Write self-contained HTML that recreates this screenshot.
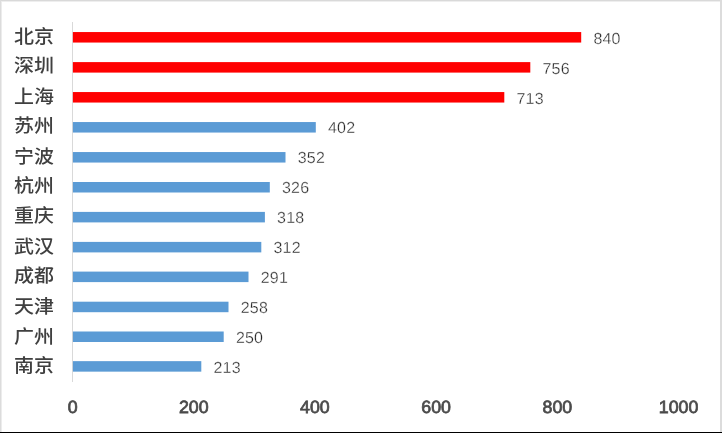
<!DOCTYPE html>
<html lang="zh"><head><meta charset="utf-8"><title>chart</title>
<style>
html,body{margin:0;padding:0;background:#fff;}
body{width:722px;height:433px;position:relative;overflow:hidden;font-family:"Liberation Sans","Noto Sans CJK SC",sans-serif;}
.f{position:absolute;}
svg{position:absolute;left:0;top:0;}
.cat{position:absolute;left:14.3px;width:40px;font-weight:500;font-size:18.5px;line-height:20px;height:20px;color:#404040;white-space:nowrap;font-family:"Liberation Sans","Noto Sans CJK SC",sans-serif;transform:scaleX(1.08);transform-origin:0 0;}
.val{position:absolute;text-rendering:geometricPrecision;letter-spacing:0.2px;font-size:16px;line-height:16px;height:16px;color:#262626;-webkit-text-stroke:0.3px #fff;white-space:nowrap;}
.tick{position:absolute;text-rendering:geometricPrecision;top:397px;width:60px;text-align:center;font-size:17.8px;line-height:20px;height:20px;color:#4a4a4a;letter-spacing:0px;-webkit-text-stroke:0.75px #4a4a4a;white-space:nowrap;}
</style></head><body>
<div class="f" style="left:0;top:0;width:722px;height:1px;background:#d9d9d9"></div>
<div class="f" style="left:0;top:1px;width:722px;height:1px;background:#eeeeee"></div>
<div class="f" style="left:0;top:0;width:1px;height:433px;background:#dcdcdc"></div>
<div class="f" style="left:1px;top:1px;width:1px;height:432px;background:#ececec"></div>
<div class="f" style="left:720px;top:0;width:2px;height:433px;background:#dcdcdc"></div>
<div class="f" style="left:0;top:432px;width:722px;height:1px;background:#000"></div>
<svg width="722" height="433" viewBox="0 0 722 433">
<rect x="72" y="22" width="1" height="360" fill="#d9d9d9"/>

<rect x="72.9" y="32.05" width="508.3" height="10.5" fill="#ff0000"/>
<rect x="72.9" y="62.10" width="457.4" height="10.5" fill="#ff0000"/>
<rect x="72.9" y="92.05" width="431.4" height="10.5" fill="#ff0000"/>
<rect x="72.9" y="122.05" width="242.9" height="10.5" fill="#5b9bd5"/>
<rect x="72.9" y="152.05" width="212.6" height="10.5" fill="#5b9bd5"/>
<rect x="72.9" y="182.00" width="196.9" height="10.5" fill="#5b9bd5"/>
<rect x="72.9" y="211.90" width="192.0" height="10.5" fill="#5b9bd5"/>
<rect x="72.9" y="241.90" width="188.4" height="10.5" fill="#5b9bd5"/>
<rect x="72.9" y="271.60" width="175.6" height="10.5" fill="#5b9bd5"/>
<rect x="72.9" y="301.70" width="155.6" height="10.5" fill="#5b9bd5"/>
<rect x="72.9" y="331.50" width="150.8" height="10.5" fill="#5b9bd5"/>
<rect x="72.9" y="361.15" width="128.4" height="10.5" fill="#5b9bd5"/>
</svg>
<div class="cat" style="top:27px">北京</div>
<div class="val" style="left:593.4px;top:32px">840</div>
<div class="cat" style="top:56px">深圳</div>
<div class="val" style="left:542.5px;top:62px">756</div>
<div class="cat" style="top:87px">上海</div>
<div class="val" style="left:516.5px;top:92px">713</div>
<div class="cat" style="top:116px">苏州</div>
<div class="val" style="left:328.0px;top:121px">402</div>
<div class="cat" style="top:147px">宁波</div>
<div class="val" style="left:297.7px;top:151px">352</div>
<div class="cat" style="top:176px">杭州</div>
<div class="val" style="left:282.0px;top:181px">326</div>
<div class="cat" style="top:206px">重庆</div>
<div class="val" style="left:277.1px;top:211px">318</div>
<div class="cat" style="top:237px">武汉</div>
<div class="val" style="left:273.5px;top:241px">312</div>
<div class="cat" style="top:266px">成都</div>
<div class="val" style="left:260.7px;top:271px">291</div>
<div class="cat" style="top:297px">天津</div>
<div class="val" style="left:240.7px;top:301px">258</div>
<div class="cat" style="top:327px">广州</div>
<div class="val" style="left:235.9px;top:331px">250</div>
<div class="cat" style="top:356px">南京</div>
<div class="val" style="left:213.5px;top:361px">213</div>
<div class="tick" style="left:42.6px">0</div>
<div class="tick" style="left:163.8px">200</div>
<div class="tick" style="left:284.9px">400</div>
<div class="tick" style="left:406.1px">600</div>
<div class="tick" style="left:527.4px">800</div>
<div class="tick" style="left:648.6px">1000</div>
</body></html>
